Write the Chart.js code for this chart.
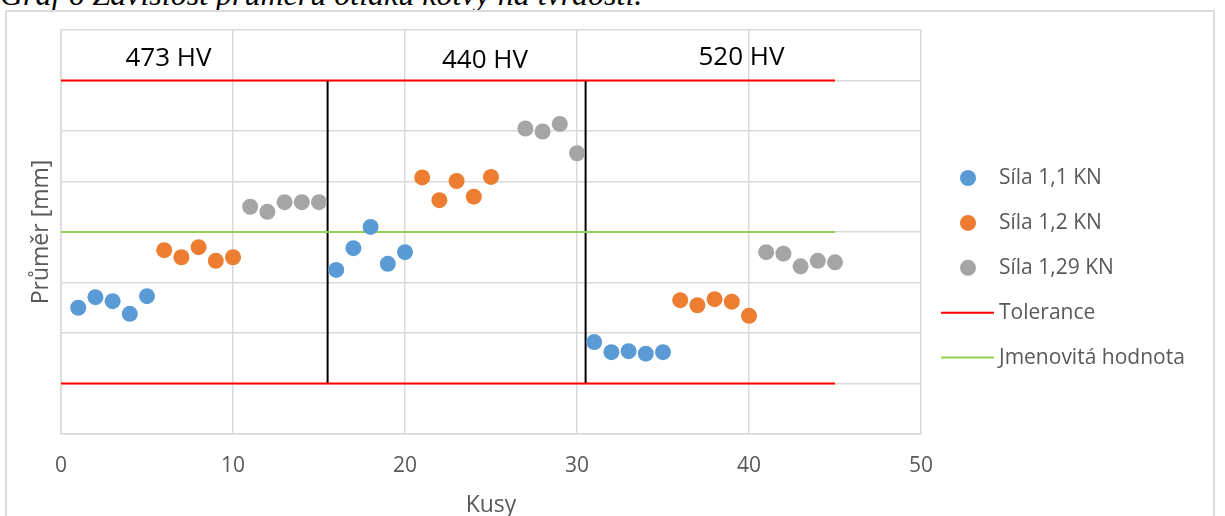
<!DOCTYPE html>
<html>
<head>
<meta charset="utf-8">
<script src="https://cdn.jsdelivr.net/npm/chart.js@4/dist/chart.umd.min.js"></script>
<style>
  body { margin: 0; background: #fff; width: 1225px; height: 516px; overflow: hidden; position: relative; }
  #caption { position: absolute; left: 0; top: -22px; font: italic 32px "Liberation Serif"; line-height: 32px; white-space: nowrap; color: #000; }
  #box { position: absolute; left: 5px; top: 10px; width: 1206px; height: 520px; border: 2px solid #dcdcdc; background: #fff; }
  #wrap { position: absolute; left: 7px; top: 12px; width: 1206px; height: 504px; }
</style>
</head>
<body>
<div id="caption">Graf 6 Závislost průměru otlaku kotvy na tvrdosti.</div>
<div id="box"></div>
<div id="wrap"><canvas id="grafTvrdost"></canvas></div>
<script>
// Kusy (osa x) a průměry (osa y, bez popisků - jednotky mřížky)
const kusy11 = [1, 2, 3, 4, 5, 16, 17, 18, 19, 20, 31, 32, 33, 34, 35];
const sila11 = [2.50, 2.71, 2.63, 2.38, 2.73, 3.25, 3.68, 4.10, 3.37, 3.60, 1.82, 1.62, 1.64, 1.59, 1.62];

const kusy12 = [6, 7, 8, 9, 10, 21, 22, 23, 24, 25, 36, 37, 38, 39, 40];
const sila12 = [3.64, 3.50, 3.70, 3.43, 3.50, 5.08, 4.63, 5.01, 4.70, 5.09, 2.65, 2.55, 2.67, 2.62, 2.34];

const kusy129 = [11, 12, 13, 14, 15, 27, 28, 29, 30, 41, 42, 43, 44, 45];
const sila129 = [4.50, 4.40, 4.59, 4.59, 4.59, 6.05, 5.99, 6.14, 5.56, 3.60, 3.57, 3.32, 3.43, 3.40];

// Meze a jmenovitá hodnota
const rozsahKusu = [0, 45];
const toleranceHorni = 7;
const toleranceDolni = 1;
const jmenovita = 4;

// Svislé dělicí čáry mezi tvrdostmi
const delici = [15.5, 30.5];

// Popisky tvrdosti
const tvrdostText = ["473 HV", "440 HV", "520 HV"];
const tvrdostX = [6.25, 24.65, 39.56];
const tvrdostY = [7.43, 7.40, 7.46];

const xTicks = [0, 10, 20, 30, 40, 50];

const body = (xs, ys) => xs.map((x, i) => ({ x: x, y: ys[i] }));

// Tolerance = dvě vodorovné čáry v jedné řadě (přerušené null bodem)
const toleranceData = [
  { x: rozsahKusu[0], y: toleranceHorni },
  { x: rozsahKusu[1], y: toleranceHorni },
  { x: rozsahKusu[1], y: null },
  { x: rozsahKusu[0], y: toleranceDolni },
  { x: rozsahKusu[1], y: toleranceDolni },
];

const bodovaRada = (label, data, color) => ({
  label: label,
  data: data,
  backgroundColor: color,
  borderColor: color,
  borderWidth: 0,
  pointRadius: 8,
  pointHoverRadius: 8,
  showLine: false,
});

const caraRada = (label, data, color, width) => ({
  label: label,
  data: data,
  borderColor: color,
  backgroundColor: color,
  borderWidth: width,
  pointRadius: 0,
  showLine: true,
  spanGaps: false,
});

const datasets = [
  bodovaRada("Síla 1,1 KN", body(kusy11, sila11), "#5b9bd5"),
  bodovaRada("Síla 1,2 KN", body(kusy12, sila12), "#ed7d31"),
  bodovaRada("Síla 1,29 KN", body(kusy129, sila129), "#a5a5a5"),
  caraRada("Tolerance", toleranceData, "#ff0000", 2),
  caraRada("Jmenovitá hodnota", body(rozsahKusu, [jmenovita, jmenovita]), "#92d050", 2),
];
delici.forEach((x) => {
  datasets.push(caraRada(null, [{ x: x, y: toleranceDolni }, { x: x, y: toleranceHorni }], "#000000", 2));
});

// Popisky tvrdosti nad grafem
const tvrdostPlugin = {
  id: "tvrdost",
  afterDatasetsDraw(chart) {
    const ctx = chart.ctx;
    const sx = chart.scales.x, sy = chart.scales.y;
    ctx.save();
    ctx.font = '26px "Open Sans"';
    ctx.fillStyle = "#000";
    ctx.textAlign = "center";
    ctx.textBaseline = "middle";
    tvrdostText.forEach((t, i) => {
      ctx.fillText(t, sx.getPixelForValue(tvrdostX[i]), sy.getPixelForValue(tvrdostY[i]));
    });
    ctx.restore();
  },
};

// Vlastní legenda vpravo (jako v Excelu)
const legendaPlugin = {
  id: "legenda",
  afterDraw(chart) {
    const ctx = chart.ctx;
    const a = chart.chartArea;
    const polozky = chart.data.datasets.filter((d) => d.label);
    ctx.save();
    ctx.font = '21px "Open Sans"';
    ctx.textBaseline = "middle";
    ctx.textAlign = "left";
    polozky.forEach((d, i) => {
      const y = a.top + 148 + i * 44.9;
      if (d.showLine) {
        ctx.strokeStyle = d.borderColor;
        ctx.lineWidth = 2;
        ctx.beginPath();
        ctx.moveTo(a.right + 20, y);
        ctx.lineTo(a.right + 73, y);
        ctx.stroke();
      } else {
        ctx.fillStyle = d.backgroundColor;
        ctx.beginPath();
        ctx.arc(a.right + 47, y, 8, 0, Math.PI * 2);
        ctx.fill();
      }
      ctx.fillStyle = "#595959";
      ctx.fillText(d.label, a.right + 78, y);
    });
    ctx.restore();
  },
};

const ctx = document.getElementById("grafTvrdost").getContext("2d");
const grafTvrdost = new Chart(ctx, {
  type: "scatter",
  data: { datasets: datasets },
  plugins: [tvrdostPlugin, legendaPlugin],
  options: {
    responsive: true,
    maintainAspectRatio: false,
    animation: false,
    layout: { padding: { top: 18, right: 292, left: 0, bottom: 0 } },
    plugins: {
      legend: { display: false },
      tooltip: { enabled: false },
    },
    scales: {
      x: {
        type: "linear",
        min: 0,
        max: 50,
        afterBuildTicks: (axis) => {
          axis.ticks = xTicks.map((v) => ({ value: v }));
        },
        afterFit: (axis) => {
          axis.height = 82;
        },
        grid: { color: "#d9d9d9", lineWidth: 1.5, drawTicks: false },
        border: { color: "#d9d9d9", width: 1.5 },
        ticks: {
          color: "#595959",
          font: { family: "Open Sans", size: 21 },
          padding: 19,
          maxRotation: 0,
        },
        title: {
          display: true,
          text: "Kusy",
          color: "#595959",
          font: { family: "Open Sans", size: 23 },
          padding: { top: 0, bottom: -3 },
        },
      },
      y: {
        type: "linear",
        min: 0,
        max: 8,
        afterFit: (axis) => {
          axis.width = 54;
        },
        grid: { color: "#d9d9d9", lineWidth: 1.5, drawTicks: false },
        border: { color: "#d9d9d9", width: 1.5 },
        ticks: { display: false, stepSize: 1 },
        title: {
          display: true,
          text: "Průměr [mm]",
          color: "#595959",
          font: { family: "Open Sans", size: 23 },
          padding: { top: 21, bottom: 0 },
        },
      },
    },
  },
});
</script>
</body>
</html>
